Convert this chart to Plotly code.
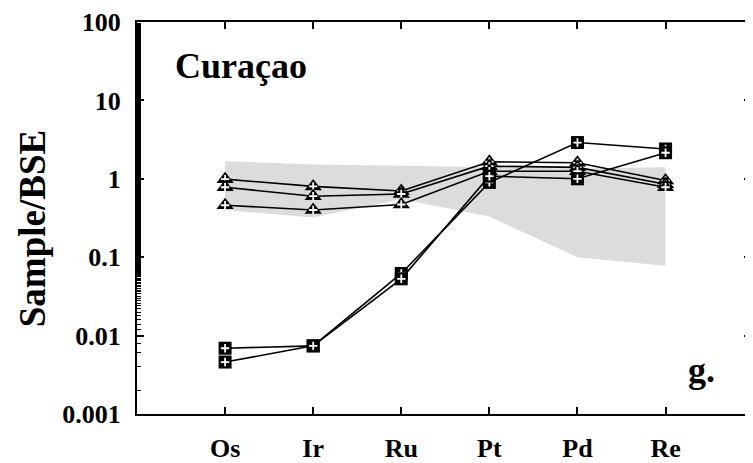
import plotly.graph_objects as go

elements = ["Os", "Ir", "Ru", "Pt", "Pd", "Re"]

# grey envelope (upper and lower bounds)
band_upper = [1.68, 1.52, 1.47, 1.42, 1.35, 1.40]
band_lower = [0.40, 0.32, 0.55, 0.33, 0.10, 0.078]

# triangle samples
tri_a = [0.99, 0.80, 0.70, 1.65, 1.60, 0.95]
tri_b = [0.78, 0.60, 0.64, 1.45, 1.40, 0.85]
tri_c = [0.46, 0.40, 0.47, 1.25, 1.25, 0.78]

# square samples
sq_a = [0.0069, 0.0074, 0.062, 0.90, 2.9, 2.4]
sq_b = [0.0046, 0.0074, 0.053, 1.08, 1.0, 2.15]

ytick_vals = [0.001, 0.01, 0.1, 1, 10, 100]
ytick_text = ["0.001", "0.01", "0.1", "1", "10", "100"]

SERIF = '"Liberation Serif", "Times New Roman", Times, serif'

fig = go.Figure()

fig.add_trace(go.Scatter(
    x=elements + elements[::-1],
    y=band_upper + band_lower[::-1],
    fill="toself",
    fillcolor="#dcdcdc",
    line=dict(width=0),
    mode="lines",
    hoverinfo="skip",
    showlegend=False,
))


def add_series(values, symbol, size):
    fig.add_trace(go.Scatter(
        x=elements, y=values, mode="lines+markers",
        line=dict(color="black", width=1.6),
        marker=dict(symbol=symbol, size=size, color="black",
                    line=dict(width=0)),
        showlegend=False,
    ))
    # white plus inside each marker
    fig.add_trace(go.Scatter(
        x=elements, y=values, mode="markers",
        marker=dict(symbol="cross-thin", size=6,
                    line=dict(color="white", width=1.8)),
        hoverinfo="skip",
        showlegend=False,
    ))


for s in (tri_a, tri_b, tri_c):
    add_series(s, "triangle-up", 15)
for s in (sq_a, sq_b):
    add_series(s, "square", 13)

fig.update_xaxes(
    type="category",
    categoryorder="array",
    categoryarray=elements,
    range=[-1, 5.97],
    showline=True, linewidth=2, linecolor="black",
    mirror="allticks",
    ticks="inside", ticklen=7, tickwidth=1.5, tickcolor="black",
    showgrid=False, zeroline=False,
    tickfont=dict(family=SERIF, size=26, color="black", weight="bold"),
    ticklabelstandoff=10,
)
fig.update_yaxes(
    type="log",
    range=[-3, 2],
    tickvals=ytick_vals,
    ticktext=ytick_text,
    showline=True, linewidth=2, linecolor="black",
    mirror="allticks",
    ticks="inside", ticklen=7, tickwidth=1.5, tickcolor="black",
    minor=dict(ticks="inside", ticklen=4, tickwidth=1, tickcolor="black", showgrid=False),
    showgrid=False, zeroline=False,
    tickfont=dict(family=SERIF, size=26, color="black", weight="bold"),
    ticklabelstandoff=9,
)

# page body has an 8px margin, so the figure is 8px smaller on each side
fig.update_layout(
    width=745, height=455,
    margin=dict(l=129, r=0, t=14, b=39),
    paper_bgcolor="white",
    plot_bgcolor="white",
    font=dict(family=SERIF, color="black"),
    annotations=[
        dict(text="Curaçao", xref="paper", yref="paper", x=0.058, y=0.888,
             xanchor="left", yanchor="middle", showarrow=False,
             font=dict(family=SERIF, size=36, color="black", weight="bold")),
        dict(text="g.", xref="paper", yref="paper", x=0.894, y=0.112,
             xanchor="left", yanchor="middle", showarrow=False,
             font=dict(family=SERIF, size=36, color="black", weight="bold")),
        dict(text="Sample/BSE", xref="paper", yref="paper", x=-0.169, y=0.472,
             xanchor="center", yanchor="middle", textangle=-90, showarrow=False,
             font=dict(family=SERIF, size=37, color="black", weight="bold")),
    ],
)

fig.write_html("out.html")
